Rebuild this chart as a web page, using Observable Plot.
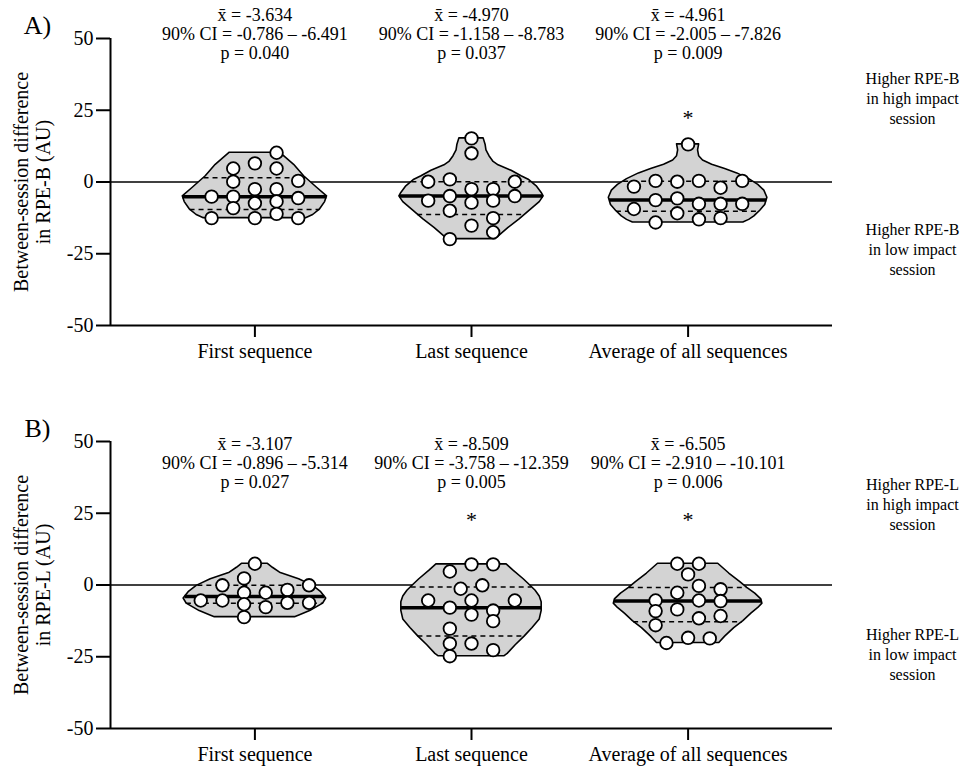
<!DOCTYPE html>
<html>
<head>
<meta charset="utf-8">
<script src="https://cdn.jsdelivr.net/npm/d3@7"></script>
<script src="https://cdn.jsdelivr.net/npm/@observablehq/plot@0.6"></script>
<style>
  body { margin: 0; background: #fff; }
  #chart svg { display: block; }
  #chart svg, #chart svg text, #chart svg g { font-family: 'Liberation Serif', serif !important; }
</style>
</head>
<body>
<div id="chart"></div>
<script>
// ---------- shared ----------
const categories = ["First sequence", "Last sequence", "Average of all sequences"];
const yTicks = [-50, -25, 0, 25, 50];

// ---------- Panel A: RPE-B ----------
const aValues1 = [10.2, 4.7, 6.5, 4.7, 0.1, 0.4, -5.1, -5.1, -2.5, -2.5, -5.6, -9.1, -7.4, -6.8, -11.1, -12.6, -12.6, -12.6];
const aCols1   = [1, -1, 0, 1, -1, 2, -2, -1, 0, 1, 2, -1, 0, 1, 1, -2, 0, 2];
const aValues2 = [15.2, 10, 0.1, 0.9, 0.1, -2.5, -2.5, -6.5, -4.9, -7.2, -6.5, -4.9, -10, -12.6, -15.2, -17.5, -19.9];
const aCols2   = [0, 0, -2, -1, 2, 0, 1, -2, -1, 0, 1, 2, -1, 1, 0, 1, -1];
const aValues3 = [13.1, -1.6, 0.4, 0.1, 0.4, -2, 0.4, -6.3, -5.7, -7.6, -7.6, -7.6, -9.4, -10.9, -13, -12.6, -14.1];
const aCols3   = [0, -2.5, -1.5, -0.5, 0.5, 1.5, 2.5, -1.5, -0.5, 0.5, 1.5, 2.5, -2.5, -0.5, 0.5, 1.5, -1.5];

// violin outlines: value levels and half-width (in category units)
const aOutV1 = [10.2, 6, 2, -2, -5, -7, -9.5, -11.5, -12.6];
const aOutW1 = [0.116, 0.181, 0.227, 0.287, 0.333, 0.324, 0.301, 0.269, 0.236];
const aOutV2 = [15.2, 13, 11, 9, 7, 5.8, 3.9, 2, 0.8, -1.5, -3.8, -5, -7, -10, -13, -16, -19.9];
const aOutW2 = [0.056, 0.065, 0.069, 0.083, 0.102, 0.125, 0.185, 0.231, 0.264, 0.301, 0.324, 0.333, 0.315, 0.269, 0.222, 0.171, 0.111];
const aOutV3 = [13.1, 11, 9, 7.5, 6, 4.5, 3, 1, -1, -3, -5.5, -8, -10, -12, -13.2, -14.1];
const aOutW3 = [0.051, 0.046, 0.051, 0.069, 0.111, 0.171, 0.227, 0.282, 0.324, 0.352, 0.366, 0.356, 0.333, 0.306, 0.282, 0.255];

const aMeans  = [-3.634, -4.970, -4.961];
const aCILow  = [-0.786, -1.158, -2.005];
const aCIHigh = [-6.491, -8.783, -7.826];
const aP      = [0.040, 0.037, 0.009];
const aSig    = [false, false, true];

// ---------- Panel B: RPE-L ----------
const bValues1 = [7.4, 2.3, -0.1, -2.7, -2.7, -1.7, -0.1, -5.4, -5.4, -6.7, -7.7, -6.2, -6.2, -11.2];
const bCols1   = [0, -0.5, -1.5, -0.5, 0.5, 1.5, 2.5, -2.5, -1.5, -0.5, 0.5, 1.5, 2.5, -0.5];
const bValues2 = [7.2, 7.2, 4.7, -1.3, -0.1, -5.4, -5.4, -5.4, -7.9, -10.3, -8.9, -12.6, -15.2, -20.4, -20.4, -22.7, -24.8];
const bCols2   = [0, 1, -1, -0.5, 0.5, -2, 0, 2, -1, 0, 1, 1, -1, -1, 0, 1, -1];
const bValues3 = [7.4, 7.4, 3.7, -0.3, -1.5, -2.7, -5.4, -5.4, -5.6, -9.1, -8.5, -11.6, -10.8, -14, -20.2, -18.4, -18.6];
const bCols3   = [-0.5, 0.5, 0, 0.5, 1.5, -0.5, -1.5, 0.5, 1.5, -1.5, -0.5, 0.5, 1.5, -1.5, -1, 0, 1];

const bOutV1 = [7.4, 6, 4.3, 2, -0.3, -2.5, -4.7, -6.5, -9.1, -10.5, -11.2];
const bOutW1 = [0.060, 0.083, 0.116, 0.204, 0.269, 0.306, 0.329, 0.315, 0.255, 0.208, 0.185];
const bOutV2 = [7.2, 5, 2, 0, -2, -4, -6, -9, -12, -15, -18, -21, -24, -24.8];
const bOutW2 = [0.162, 0.194, 0.241, 0.269, 0.296, 0.315, 0.324, 0.324, 0.315, 0.282, 0.245, 0.204, 0.167, 0.153];
const bOutV3 = [7.4, 4, 1, -1, -3, -5, -6.5, -8, -10, -12.6, -15, -18, -20.2];
const bOutW3 = [0.139, 0.190, 0.241, 0.273, 0.310, 0.338, 0.343, 0.324, 0.292, 0.255, 0.213, 0.171, 0.144];

const bMeans  = [-3.107, -8.509, -6.505];
const bCILow  = [-0.896, -3.758, -2.910];
const bCIHigh = [-5.314, -12.359, -10.101];
const bP      = [0.027, 0.005, 0.006];
const bSig    = [false, true, true];

// ---------- helpers ----------
function quantileR6(sorted, p) {
  const n = sorted.length, h = (n + 1) * p, lo = Math.floor(h);
  if (lo < 1) return sorted[0];
  if (lo >= n) return sorted[n - 1];
  return sorted[lo - 1] + (h - lo) * (sorted[lo] - sorted[lo - 1]);
}
function halfWidthAt(vs, ws, y) {
  for (let i = 0; i < vs.length - 1; i++) {
    const a = vs[i], b = vs[i + 1];
    if (y <= a && y >= b) return ws[i] + ((a - y) / (a - b)) * (ws[i + 1] - ws[i]);
  }
  return 0;
}

const font = "Liberation Serif, serif";
const colStep = 0.1;

function makePanel(o) {
  const dots = o.values.flatMap((vals, i) => vals.map((v, j) => ({cat: i, v, col: o.cols[i][j]})));
  const outline = o.outV.flatMap((vs, i) => vs.map((v, j) => ({cat: i, v, w: o.outW[i][j]})));
  const quart = [];
  o.values.forEach((vals, i) => {
    const s = [...vals].sort((a, b) => a - b);
    [["q1", 0.25], ["med", 0.5], ["q3", 0.75]].forEach(([k, p]) => {
      const y = quantileR6(s, p);
      quart.push({cat: i, k, y, w: halfWidthAt(o.outV[i], o.outW[i], y)});
    });
  });
  const stats = categories.map((c, i) => ({
    cat: i,
    label: `x\u0304 = ${o.means[i].toFixed(3)}\n90% CI = ${o.lo[i].toFixed(3)} \u2013 ${o.hi[i].toFixed(3)}\np = ${o.p[i].toFixed(3)}`
  }));
  const sig = categories.map((c, i) => ({cat: i, s: o.sig[i]})).filter(d => d.s);
  const xDomain = [-2 / 3, 8 / 3];

  return Plot.plot({
    width: 966,
    height: o.height,
    marginLeft: 110,
    marginRight: 134,
    marginTop: 38,
    marginBottom: o.marginBottom,
    style: {fontFamily: font, fontSize: "20px", color: "#000", background: "#fff", overflow: "visible"},
    x: {domain: xDomain, axis: null},
    y: {domain: [yTicks[0], yTicks[yTicks.length - 1]], axis: null},
    marks: [
      Plot.ruleY([0], {stroke: "#000", strokeWidth: 1.5}),
      Plot.areaX(outline, {
        y: "v", x1: d => d.cat - d.w, x2: d => d.cat + d.w, z: "cat",
        fill: "#d3d3d3", stroke: "#000", strokeWidth: 1.6, curve: "linear"
      }),
      Plot.ruleY(quart.filter(d => d.k !== "med"), {
        y: "y", x1: d => d.cat - d.w, x2: d => d.cat + d.w,
        stroke: "#000", strokeWidth: 1.5, strokeDasharray: "5,4"
      }),
      Plot.ruleY(quart.filter(d => d.k === "med"), {
        y: "y", x1: d => d.cat - d.w, x2: d => d.cat + d.w,
        stroke: "#000", strokeWidth: 3.5
      }),
      Plot.dot(dots, {
        x: d => d.cat + d.col * colStep, y: "v", r: 6.3,
        fill: "#fff", stroke: "#000", strokeWidth: 1.8
      }),
      Plot.ruleX([xDomain[0]], {stroke: "#000", strokeWidth: 2}),
      Plot.ruleY([yTicks[0]], {stroke: "#000", strokeWidth: 2}),
      Plot.axisY({ticks: yTicks, tickSize: 14, tickPadding: 3, tickFormat: d => String(d), label: null, strokeWidth: 2, fontSize: 20}),
      Plot.axisX({ticks: [0, 1, 2], tickFormat: i => categories[i], tickSize: 12, tickPadding: 6, label: null, strokeWidth: 2, fontSize: 20}),
      Plot.text(stats, {x: "cat", text: "label", frameAnchor: "top", dy: o.statsDy, lineAnchor: "middle", lineHeight: 1.06, fontSize: 18}),
      Plot.text(sig, {x: "cat", text: () => "*", frameAnchor: "top", dy: o.starDy, fontSize: 22}),
      Plot.text([o.rightHigh], {text: d => d, y: o.rightHighY, frameAnchor: "right", dx: 80, textAnchor: "middle", lineAnchor: "middle", lineHeight: 1.25, fontSize: 16}),
      Plot.text([o.rightLow], {text: d => d, y: o.rightLowY, frameAnchor: "right", dx: 80, textAnchor: "middle", lineAnchor: "middle", lineHeight: 1.25, fontSize: 16}),
      Plot.text([o.yLabel], {text: d => d, frameAnchor: "left", dx: -79, rotate: -90, textAnchor: "middle", lineAnchor: "middle", lineHeight: 1.1, fontSize: 20}),
      Plot.text([o.letter], {text: d => d, frameAnchor: "top-left", dx: -73, dy: -23, textAnchor: "middle", fontSize: 26})
    ]
  });
}

const chart = document.getElementById("chart");
chart.append(makePanel({
  values: [aValues1, aValues2, aValues3], cols: [aCols1, aCols2, aCols3],
  outV: [aOutV1, aOutV2, aOutV3], outW: [aOutW1, aOutW2, aOutW3],
  means: aMeans, lo: aCILow, hi: aCIHigh, p: aP, sig: aSig,
  rightHigh: "Higher RPE-B\nin high impact\nsession",
  rightLow: "Higher RPE-B\nin low impact\nsession",
  rightHighY: 29.4, rightLowY: -23.3,
  yLabel: "Between-session difference\nin RPE-B (AU)",
  letter: "A)", height: 403, marginBottom: 78, statsDy: -5, starDy: 71
}));
chart.append(makePanel({
  values: [bValues1, bValues2, bValues3], cols: [bCols1, bCols2, bCols3],
  outV: [bOutV1, bOutV2, bOutV3], outW: [bOutW1, bOutW2, bOutW3],
  means: bMeans, lo: bCILow, hi: bCIHigh, p: bP, sig: bSig,
  rightHigh: "Higher RPE-L\nin high impact\nsession",
  rightLow: "Higher RPE-L\nin low impact\nsession",
  rightHighY: 28.3, rightLowY: -23.8,
  yLabel: "Between-session difference\nin RPE-L (AU)",
  letter: "B)", height: 366, marginBottom: 41, statsDy: 21, starDy: 70
}));
</script>
</body>
</html>
